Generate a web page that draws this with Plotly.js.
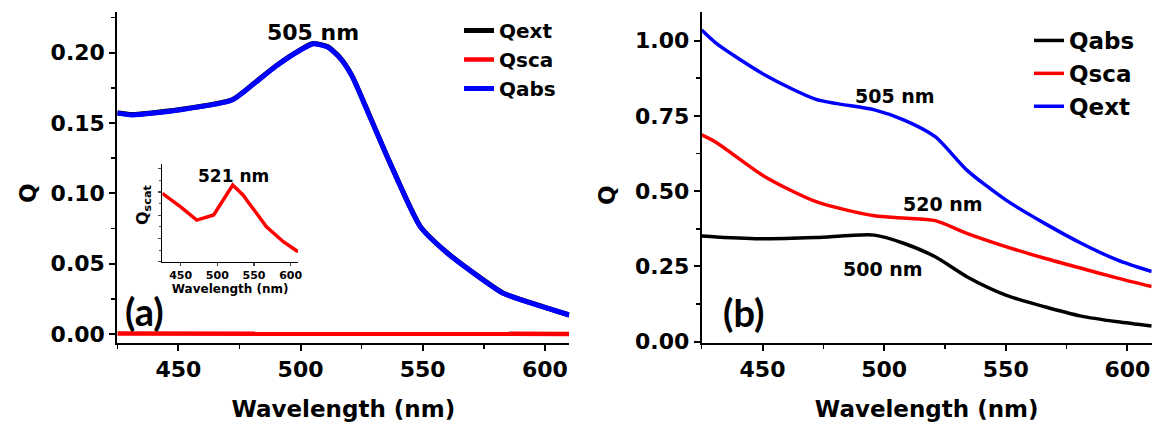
<!DOCTYPE html>
<html>
<head>
<meta charset="utf-8">
<script src="https://cdn.plot.ly/plotly-3.0.1.min.js"></script>
<style>html,body{margin:0;padding:0;background:#fff;}#chart{width:1156px;height:425px;}</style>
</head>
<body>
<div id="chart"></div>
<script>
// ---- Panel (a) data ----
const wlA = [425, 431, 450, 472, 481, 490, 500, 505, 511, 516, 521, 528, 537, 549, 559, 571, 583, 599, 610];
const qabsA = [0.1570, 0.1557, 0.1592, 0.1663, 0.1780, 0.1905, 0.2019, 0.2062, 0.2040, 0.1965, 0.1835, 0.1560, 0.1200, 0.0763, 0.0590, 0.0431, 0.0289, 0.0194, 0.0135];
const qextA = [0.1573, 0.1560, 0.1594, 0.1665, 0.1782, 0.1907, 0.2021, 0.2065, 0.2043, 0.1968, 0.1838, 0.1562, 0.1202, 0.0765, 0.0592, 0.0432, 0.0290, 0.0195, 0.0135];
// inset: scattering efficiency (tiny values)
const wlInset = [425, 450, 472, 495, 521, 535, 545, 567, 590, 610];
const qscaInset = [2.94e-4, 2.36e-4, 1.79e-4, 2.01e-4, 3.30e-4, 2.87e-4, 2.44e-4, 1.50e-4, 0.86e-4, 0.43e-4];

// ---- Panel (b) data ----
const wlB = [425, 431, 451, 472, 496, 508, 521, 534, 550, 566, 581, 596, 610];
const qabsB = [0.351, 0.348, 0.342, 0.346, 0.354, 0.327, 0.282, 0.216, 0.155, 0.116, 0.085, 0.066, 0.052];
const qscaB = [0.687, 0.662, 0.548, 0.465, 0.418, 0.411, 0.402, 0.360, 0.316, 0.277, 0.244, 0.211, 0.183];
const qextB = [1.035, 0.991, 0.886, 0.805, 0.770, 0.737, 0.681, 0.570, 0.471, 0.393, 0.327, 0.271, 0.233];

const W = 1156, H = 425;
const px = x => x / W;
const py = y => 1 - y / H;
const FF = 'DejaVu Sans';
const bold = (size, color) => ({family: FF, size: size, color: color || '#000', weight: 'bold'});

const traces = [
  {x: wlA, y: qextA, xaxis: 'x', yaxis: 'y', name: 'Qext', mode: 'lines', line: {color: '#000000', width: 5, shape: 'spline', smoothing: 0.6}, legend: 'legend'},
  {x: wlInset, y: qscaInset, xaxis: 'x', yaxis: 'y', name: 'Qsca', mode: 'lines', line: {color: '#ff0000', width: 4.5}, legend: 'legend'},
  {x: wlA, y: qabsA, xaxis: 'x', yaxis: 'y', name: 'Qabs', mode: 'lines', line: {color: '#0000ff', width: 5, shape: 'spline', smoothing: 0.6}, legend: 'legend'},
  {x: wlInset, y: qscaInset, xaxis: 'x3', yaxis: 'y3', name: 'Qscat', mode: 'lines', line: {color: '#ff0000', width: 3.5}, showlegend: false},
  {x: wlB, y: qabsB, xaxis: 'x2', yaxis: 'y2', name: 'Qabs', mode: 'lines', line: {color: '#000000', width: 3.5, shape: 'spline', smoothing: 0.7}, legend: 'legend2'},
  {x: wlB, y: qscaB, xaxis: 'x2', yaxis: 'y2', name: 'Qsca', mode: 'lines', line: {color: '#ff0000', width: 3.5, shape: 'spline', smoothing: 0.7}, legend: 'legend2'},
  {x: wlB, y: qextB, xaxis: 'x2', yaxis: 'y2', name: 'Qext', mode: 'lines', line: {color: '#0000ff', width: 3.5, shape: 'spline', smoothing: 0.7}, legend: 'legend2'}
];

const mainAxis = {
  showline: true, linewidth: 2, linecolor: '#000', mirror: false,
  ticks: 'outside', ticklen: 6, tickwidth: 2, tickcolor: '#000',
  showgrid: false, zeroline: false, tickfont: bold(22),
  minor: {ticks: 'outside', ticklen: 4, tickwidth: 1.5, tickcolor: '#000', showgrid: false}
};

const layout = {
  width: W, height: H,
  margin: {l: 0, r: 0, t: 0, b: 0, autoexpand: false},
  paper_bgcolor: '#fff', plot_bgcolor: 'rgba(0,0,0,0)',
  font: bold(20),
  showlegend: true,
  xaxis: Object.assign({}, mainAxis, {domain: [px(117.3), px(569.3)], range: [425, 610], anchor: 'y', tick0: 450, dtick: 50,
    minor: Object.assign({}, mainAxis.minor, {dtick: 25, tick0: 425}),
    title: {text: 'Wavelength (nm)', font: bold(23), standoff: 20}}),
  yaxis: Object.assign({}, mainAxis, {domain: [py(342.7), py(11.7)], range: [-0.0062, 0.2291], anchor: 'x', tick0: 0, dtick: 0.05, tickformat: '.2f',
    minor: Object.assign({}, mainAxis.minor, {dtick: 0.025, tick0: 0})}),
  xaxis2: Object.assign({}, mainAxis, {domain: [px(701.7), px(1151.7)], range: [425, 610], anchor: 'y2', tick0: 450, dtick: 50,
    minor: Object.assign({}, mainAxis.minor, {dtick: 25, tick0: 425}),
    title: {text: 'Wavelength (nm)', font: bold(23), standoff: 20}}),
  yaxis2: Object.assign({}, mainAxis, {domain: [py(342.7), py(11.7)], range: [-0.0033, 1.096], anchor: 'x2', tick0: 0, dtick: 0.25, tickformat: '.2f',
    minor: Object.assign({}, mainAxis.minor, {dtick: 0.125, tick0: 0})}),
  xaxis3: {domain: [px(162.3), px(298)], range: [425, 610], anchor: 'y3', showline: true, linewidth: 1.3, linecolor: '#000',
    ticks: 'outside', ticklen: 3, tickwidth: 1.2, tick0: 450, dtick: 50, showgrid: false, zeroline: false,
    tickfont: bold(11), title: {text: 'Wavelength (nm)', font: bold(12), standoff: 1}},
  yaxis3: {domain: [py(261.7), py(164)], range: [0, 4.2e-4], anchor: 'x3', showline: true, linewidth: 1.3, linecolor: '#000',
    ticks: 'outside', ticklen: 3, tickwidth: 1.2, tick0: 0, dtick: 1e-4, showticklabels: false, showgrid: false, zeroline: false,
    minor: {ticks: 'outside', ticklen: 2, tickwidth: 1, dtick: 0.5e-4, tick0: 0}},
  legend: {x: px(459), y: py(11), xanchor: 'left', yanchor: 'top', bgcolor: 'rgba(0,0,0,0)', font: bold(20), tracegroupgap: 0},
  legend2: {x: px(1029), y: py(19), xanchor: 'left', yanchor: 'top', bgcolor: 'rgba(0,0,0,0)', font: bold(23), tracegroupgap: 0},
  annotations: [
    {text: 'Q', x: px(28), y: py(193), xref: 'paper', yref: 'paper', showarrow: false, textangle: -90, font: bold(23), xanchor: 'center', yanchor: 'middle'},
    {text: 'Q', x: px(607), y: py(195), xref: 'paper', yref: 'paper', showarrow: false, textangle: -90, font: bold(23), xanchor: 'center', yanchor: 'middle'},
    {text: 'Q<sub>scat</sub>', x: px(143), y: py(205), xref: 'paper', yref: 'paper', showarrow: false, textangle: -90, font: bold(16), xanchor: 'center', yanchor: 'middle'},
    {text: '505 nm', x: px(313), y: py(32), xref: 'paper', yref: 'paper', showarrow: false, font: bold(22), xanchor: 'center', yanchor: 'middle'},
    {text: '521 nm', x: px(233), y: py(176), xref: 'paper', yref: 'paper', showarrow: false, font: bold(17), xanchor: 'center', yanchor: 'middle'},
    {text: '505 nm', x: px(895), y: py(96), xref: 'paper', yref: 'paper', showarrow: false, font: bold(19), xanchor: 'center', yanchor: 'middle'},
    {text: '520 nm', x: px(943), y: py(204), xref: 'paper', yref: 'paper', showarrow: false, font: bold(19), xanchor: 'center', yanchor: 'middle'},
    {text: '500 nm', x: px(883), y: py(269), xref: 'paper', yref: 'paper', showarrow: false, font: bold(19), xanchor: 'center', yanchor: 'middle'},
    {text: '(a)', x: px(144), y: py(311), xref: 'paper', yref: 'paper', showarrow: false, font: {family: 'Lato', size: 38, color: '#000', weight: 'bold'}, xanchor: 'center', yanchor: 'middle'},
    {text: '(b)', x: px(743), y: py(312), xref: 'paper', yref: 'paper', showarrow: false, font: {family: 'Lato', size: 38, color: '#000', weight: 'bold'}, xanchor: 'center', yanchor: 'middle'}
  ]
};

Plotly.newPlot('chart', traces, layout, {displayModeBar: false, staticPlot: true});
</script>
</body>
</html>
